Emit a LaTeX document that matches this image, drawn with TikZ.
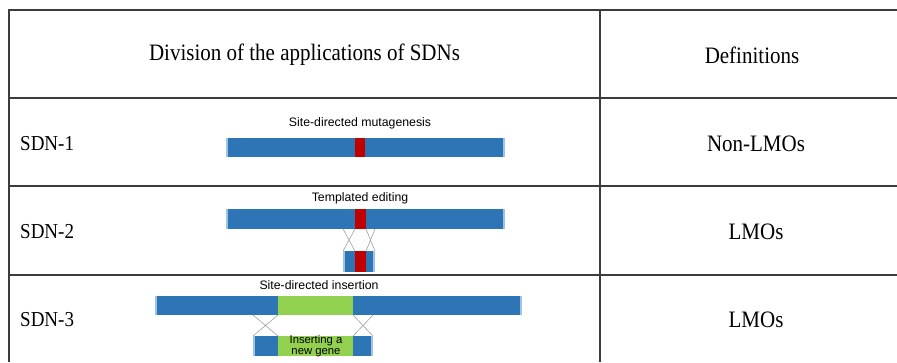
\documentclass[tikz,border=0pt]{standalone}
\usepackage{fontspec}
\setmainfont{Liberation Serif}
\newfontfamily\labelfont{Liberation Sans}
\definecolor{RuleClr}{HTML}{3C3C3C}
\definecolor{StrandClr}{HTML}{2E75B6}
\definecolor{StrandEnd}{HTML}{9DC3E6}
\definecolor{MutClr}{HTML}{C00000}
\definecolor{GeneClr}{HTML}{92D050}
\definecolor{CrossClr}{HTML}{A0A0A0}
\newcommand{\tallcell}[1]{\scalebox{1}[1.12]{#1}}
% a DNA strand from corner #1 to corner #2
\newcommand{\strand}[2]{%
  \fill[StrandClr] (#1) rectangle (#2);
  \fill[StrandEnd] (#1) rectangle ([xshift=2pt]#1 |- #2);
  \fill[StrandEnd] ([xshift=-2pt]#2 |- #1) rectangle (#2);}

\begin{document}
\begin{tikzpicture}[x=1pt,y=-1pt,
  rule/.style={RuleClr,line width=1.1pt},
  cell/.style={font=\fontsize{21}{25}\selectfont,inner sep=0pt},
  rowname/.style={cell,font=\fontsize{19}{23}\selectfont,anchor=west},
  title/.style={font=\labelfont\fontsize{12.3}{14}\selectfont,inner sep=0pt},
  cross/.style={CrossClr,line width=0.6pt}]
\useasboundingbox (0,0) rectangle (897,362);

% table
\draw[rule] (897,10) -- (9,10) -- (9,362);
\foreach \y in {98,186,275}
  \draw[rule] (9,\y) -- (897,\y);
\draw[rule] (600,10) -- (600,362);

\node[cell] (head) at (304.5,55) {\tallcell{Division of the applications of SDNs}};
\node[cell] (defs) at (752,55) {\tallcell{Definitions}};

\node[rowname] (sdn1) at (20,144) {\tallcell{SDN-1}};
\node[rowname] (sdn2) at (20,232) {\tallcell{SDN-2}};
\node[rowname] (sdn3) at (20,320) {\tallcell{SDN-3}};

\node[cell] (def1) at (756,144) {\tallcell{Non-LMOs}};
\node[cell] (def2) at (756,232) {\tallcell{LMOs}};
\node[cell] (def3) at (756,320) {\tallcell{LMOs}};

% SDN-1
\node[title] (mut) at (360,123) {Site-directed mutagenesis};
\coordinate (m1) at (226,138);
\coordinate (m2) at (505,157);
\strand{m1}{m2}
\fill[MutClr] (355,138) rectangle (365,157);

% SDN-2
\node[title] (tmpl) at (360,198) {Templated editing};
\coordinate (t1) at (226,209);
\coordinate (t2) at (505,229);
\strand{t1}{t2}
\fill[MutClr] (355,209) rectangle (366,229);
\coordinate (f1) at (343,251);
\coordinate (f2) at (375,272);
\strand{f1}{f2}
\fill[MutClr] (355,251) rectangle (366,272);
\coordinate (ta) at (343,229);
\coordinate (tb) at (355,229);
\coordinate (tc) at (366,229);
\coordinate (td) at (375,229);
\coordinate (fa) at (343,251);
\coordinate (fb) at (355,251);
\coordinate (fc) at (366,251);
\coordinate (fd) at (375,251);
\draw[cross] (ta) -- (fb) (tb) -- (fa) (tc) -- (fd) (td) -- (fc);

% SDN-3
\node[title] (ins) at (319,285) {Site-directed insertion};
\coordinate (s1) at (155,296);
\coordinate (s2) at (522,315);
\strand{s1}{s2}
\fill[GeneClr] (278,296) rectangle (353,315);
\coordinate (g1) at (253,336);
\coordinate (g2) at (373,356);
\strand{g1}{g2}
\fill[GeneClr] (278,336) rectangle (353,356);
\node[title,font=\labelfont\fontsize{11.3}{11}\selectfont,align=center] (newgene) at (316,346) {Inserting a\\new gene};
\coordinate (sa) at (253,315);
\coordinate (sb) at (278,315);
\coordinate (sc) at (353,315);
\coordinate (sd) at (373,315);
\coordinate (ga) at (253,336);
\coordinate (gb) at (278,336);
\coordinate (gc) at (353,336);
\coordinate (gd) at (373,336);
\draw[cross] (sa) -- (gb) (sb) -- (ga) (sc) -- (gd) (sd) -- (gc);

\end{tikzpicture}
\end{document}
